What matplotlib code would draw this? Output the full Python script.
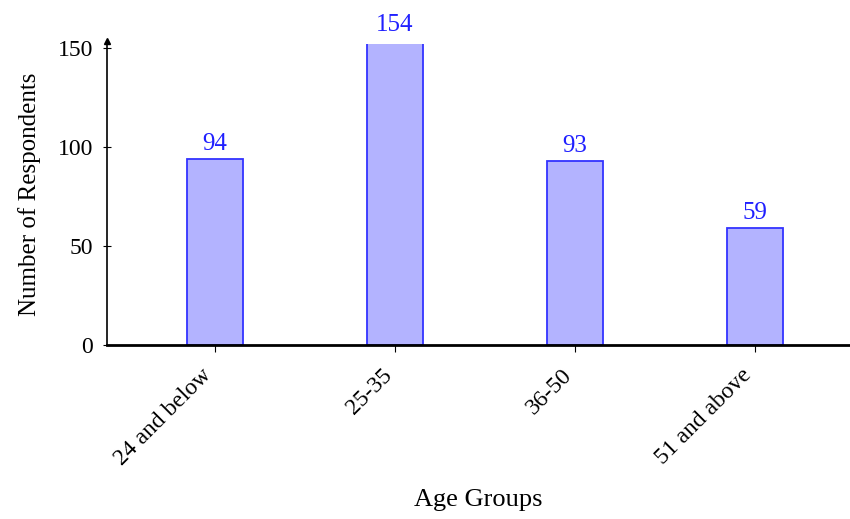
import matplotlib.pyplot as plt
from matplotlib.transforms import ScaledTranslation

age_groups = ["24 and below", "25-35", "36-50", "51 and above"]
respondents = [94, 154, 93, 59]
y_ticks = [0, 50, 100, 150]

plt.rcParams["font.family"] = ["Liberation Serif", "DejaVu Serif"]

fig = plt.figure(figsize=(8.5, 5.19), dpi=100)
ax = fig.add_axes([0.126, 0.335, 0.874, 0.58])

x = range(len(age_groups))
bars = ax.bar(x, respondents, width=0.31, color="#b3b3ff", edgecolor="#3333ff", linewidth=1.3, zorder=2)
for rect, val in zip(bars, respondents):
    ax.text(rect.get_x() + rect.get_width() / 2, rect.get_height() + 2, str(val),
            ha="center", va="bottom", color="#2020ff", fontsize=18)

ax.set_xlim(-0.6, 3.53)
ax.set_ylim(0, 152)
ax.set_yticks(y_ticks)
ax.set_xticks(list(x))
ax.set_xticklabels(age_groups, rotation=45, ha="right", rotation_mode="anchor", fontsize=17)
ax.tick_params(axis="y", direction="inout", length=6, labelsize=17, width=0.8, pad=7)
ax.tick_params(axis="x", direction="out", length=5, width=0.8, pad=9)

# nudge the slanted category labels a little to the left of their ticks
shift = ScaledTranslation(-10 / 72, 0, fig.dpi_scale_trans)
for lbl in ax.get_xticklabels():
    lbl.set_transform(lbl.get_transform() + shift)

for side in ("top", "right"):
    ax.spines[side].set_visible(False)
ax.spines["bottom"].set_linewidth(2)
ax.spines["left"].set_linewidth(1.2)
# small arrowhead on top of the value axis
ax.plot(0, 1.01, "^", color="black", markersize=4, transform=ax.transAxes, clip_on=False)

ax.set_xlabel("Age Groups", fontsize=19, labelpad=14)
ax.set_ylabel("Number of Respondents", fontsize=18, labelpad=12)

fig.savefig("out.png", dpi=100)
